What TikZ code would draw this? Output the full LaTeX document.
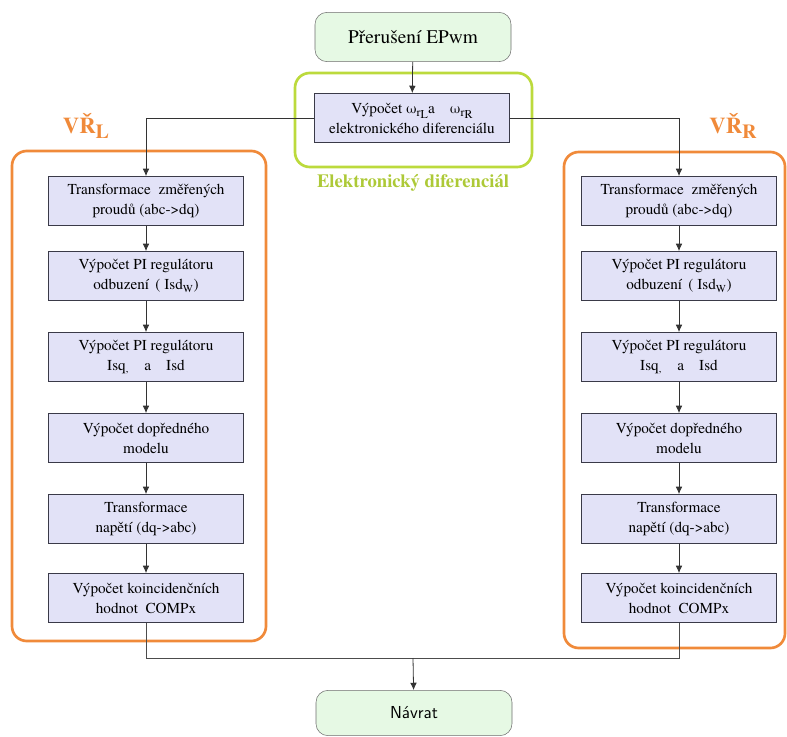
\documentclass[tikz,border=0pt]{standalone}
\usepackage{fontspec}
\setmainfont{TeX Gyre Termes}
\usetikzlibrary{arrows.meta}

\definecolor{boxfill}{HTML}{E2E2F7}
\definecolor{boxline}{HTML}{3A3A48}
\definecolor{termfill}{HTML}{E6F9E4}
\definecolor{termline}{HTML}{6E6E6E}
\definecolor{vrorange}{HTML}{F08A3A}
\definecolor{edgreen}{HTML}{BCDA3C}

\newcommand{\omegaidx}[1]{ω\raisebox{-0.45ex}{\small r\raisebox{-0.35ex}{#1}}}

\tikzset{
    krok/.style={draw=boxline, fill=boxfill, minimum width=146pt, minimum height=37pt,
        align=center, inner sep=2pt, font=\fontsize{11.4}{15}\selectfont},
    terminal/.style={draw=termline, fill=termfill, rounded corners=9pt,
        minimum width=147pt, minimum height=37pt},
    sipka/.style={-{Latex[length=5.5pt, width=5pt]}, draw=black!80, line width=0.6pt},
    spoj/.style={draw=black!70, line width=0.6pt},
    ramec/.style={line width=2pt, rounded corners=11pt},
    vrlabel/.style={text=vrorange, font=\bfseries\fontsize{17}{20}\selectfont},
}

\begin{document}
\begin{tikzpicture}[x=0.75pt, y=-0.75pt]
            \useasboundingbox (0, 0) rectangle (787, 737);
            %\draw[lightgray, step=50] (0, 0) grid (787, 737);

            % ramecky
            \draw[ramec, edgreen] (295, 73) rectangle (532, 167);
            \draw[ramec, vrorange] (12, 151) rectangle (266, 641);
            \draw[ramec, vrorange] (564, 152) rectangle (785, 648);

            \node[terminal, font=\fontsize{14.5}{17}\selectfont] (start) at (413, 37) {Přerušení EPwm};
            \node[krok] (diff) at (412, 118) {Výpočet \omegaidx{L}a\quad \omegaidx{R}\\elektronického diferenciálu};
            \node[text=edgreen!92!black, font=\bfseries\fontsize{14}{16}\selectfont] (edlabel) at (413, 183) {Elektronický diferenciál};

            \node[vrlabel] (vrl) at (86, 126) {VŘ\raisebox{-0.4ex}{\fontsize{15}{15}\selectfont L}};
            \node[vrlabel] (vrr) at (733, 126) {VŘ\raisebox{-0.4ex}{\fontsize{15}{15}\selectfont R}};

            % levy menic
            \node[krok] (l1) at (146, 201) {Transformace\ \ změřených\\proudů (abc->dq)};
            \node[krok] (l2) at (146, 276) {Výpočet PI regulátoru\\odbuzení \,( Isd\textsubscript{W})};
            \node[krok] (l3) at (146, 357) {Výpočet PI regulátoru\\Isq\textsubscript{,}\quad a\quad Isd};
            \node[krok] (l4) at (146, 438) {Výpočet dopředného\\modelu};
            \node[krok] (l5) at (146, 519) {Transformace\\napětí (dq->abc)};
            \node[krok] (l6) at (146, 598) {Výpočet koincidenčních\\hodnot\ \ COMPx};

            % pravy menic
            \node[krok] (r1) at (679, 201) {Transformace\ \ změřených\\proudů (abc->dq)};
            \node[krok] (r2) at (679, 276) {Výpočet PI regulátoru\\odbuzení \,( Isd\textsubscript{W})};
            \node[krok] (r3) at (679, 357) {Výpočet PI regulátoru\\Isq\textsubscript{,}\quad a\quad Isd};
            \node[krok] (r4) at (679, 438) {Výpočet dopředného\\modelu};
            \node[krok] (r5) at (679, 519) {Transformace\\napětí (dq->abc)};
            \node[krok] (r6) at (679, 598) {Výpočet koincidenčních\\hodnot\ \ COMPx};

            \node[terminal, minimum height=34pt, font=\sffamily\fontsize{13}{16}\selectfont] (ret) at (414, 713) {Návrat};
            \coordinate (join) at (413, 658);

            \draw[sipka] (start) -- (diff);
            \draw[sipka] (diff.west) -| (l1.north);
            \draw[sipka] (diff.east) -| (r1.north);

            \draw[sipka] (l1) -- (l2);
            \draw[sipka] (l2) -- (l3);
            \draw[sipka] (l3) -- (l4);
            \draw[sipka] (l4) -- (l5);
            \draw[sipka] (l5) -- (l6);

            \draw[sipka] (r1) -- (r2);
            \draw[sipka] (r2) -- (r3);
            \draw[sipka] (r3) -- (r4);
            \draw[sipka] (r4) -- (r5);
            \draw[sipka] (r5) -- (r6);

            \draw[spoj] (l6.south) |- (join);
            \draw[spoj] (r6.south) |- (join);
            \draw[sipka] (join) -- (ret);
\end{tikzpicture}
\end{document}
